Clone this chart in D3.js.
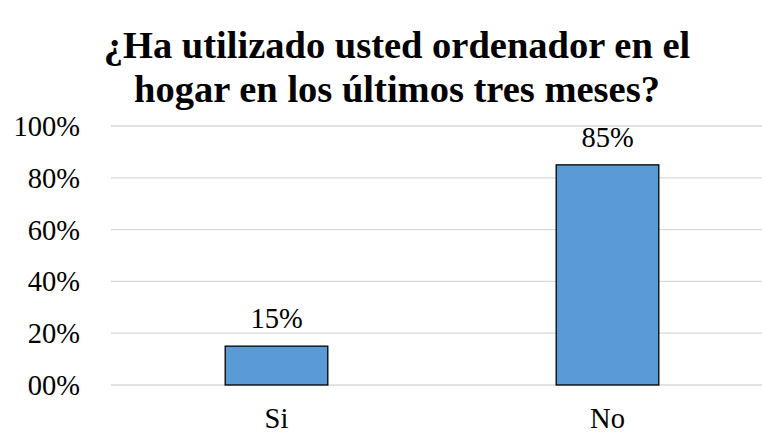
<!DOCTYPE html>
<html><head><meta charset="utf-8">
<script src="https://cdn.jsdelivr.net/npm/d3@7"></script>
<style>body{margin:0;background:#fff}</style>
</head><body>
<script>
const categories = ["Si", "No"];
const values = [15, 85];
const yTicks = [0, 20, 40, 60, 80, 100];
const yTickLabels = ["00%", "20%", "40%", "60%", "80%", "100%"];
const titleLines = ["¿Ha utilizado usted ordenador en el", "hogar en los últimos tres meses?"];

const W = 762, H = 436;
const FF = '"Liberation Serif"';
const svg = d3.select("body").append("svg").attr("width", W).attr("height", H)
  .style("display", "block").style("font-family", FF);

const x = d3.scaleBand().domain(categories).range([111, 773]).paddingInner(0.69).paddingOuter(0.345);
const y = d3.scaleLinear().domain([0, 100]).range([385, 126]);

// gridlines
svg.append("g").selectAll("line").data(yTicks).join("line")
  .attr("x1", 111).attr("x2", W)
  .attr("y1", d => y(d)).attr("y2", d => y(d))
  .attr("stroke", "#d9d9d9").attr("stroke-width", 1.3);

// y axis labels
const yAxis = d3.axisLeft(y).tickValues(yTicks).tickFormat((d, i) => yTickLabels[i]).tickSize(0).tickPadding(0);
const ga = svg.append("g").attr("transform", "translate(80,0)").call(yAxis);
ga.select(".domain").remove();
ga.attr("font-family", null).attr("font-size", null);
ga.selectAll("text").style("font-family", FF).style("font-size", "28.5px").attr("fill", "#000").attr("dy", "0.33em");

// bars
svg.append("g").selectAll("rect").data(values).join("rect")
  .attr("x", (d, i) => x(categories[i]))
  .attr("width", x.bandwidth())
  .attr("y", d => y(d))
  .attr("height", d => y(0) - y(d))
  .attr("fill", "#5b9bd5").attr("stroke", "#000").attr("stroke-width", 1.3);

// data labels
svg.append("g").selectAll("text").data(values).join("text")
  .attr("x", (d, i) => x(categories[i]) + x.bandwidth() / 2)
  .attr("y", d => y(d) - 18)
  .attr("text-anchor", "middle")
  .style("font-family", FF).style("font-size", "28.5px").attr("fill", "#000")
  .text(d => d + "%");

// x axis labels
const xAxis = d3.axisBottom(x).tickSize(0).tickPadding(0);
const gx = svg.append("g").attr("transform", "translate(0,428)").call(xAxis);
gx.select(".domain").remove();
gx.attr("font-family", null).attr("font-size", null);
gx.selectAll("text").style("font-family", FF).style("font-size", "28.5px").attr("fill", "#000").attr("dy", "0");

// title
svg.append("g").selectAll("text").data(titleLines).join("text")
  .attr("x", 397).attr("y", (d, i) => 58 + i * 44)
  .attr("text-anchor", "middle")
  .style("font-family", FF).style("font-size", "38.5px").style("font-weight", "bold").attr("fill", "#000")
  .text(d => d);
</script>
</body></html>
